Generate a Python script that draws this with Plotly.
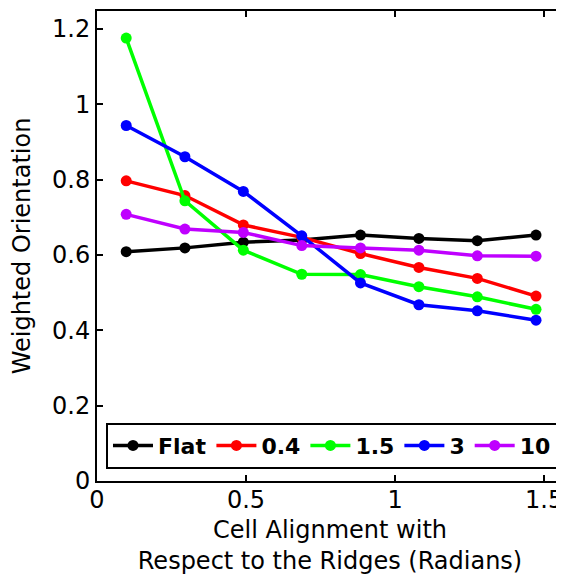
import numpy as np
import plotly.graph_objects as go

# Data
x_vals = [0.098, 0.295, 0.491, 0.687, 0.884, 1.080, 1.276, 1.473]
series_names = ["Flat", "0.4", "1.5", "3", "10"]
flat = [0.609, 0.619, 0.634, 0.640, 0.653, 0.644, 0.638, 0.653]
s_04 = [0.797, 0.758, 0.680, 0.647, 0.604, 0.567, 0.538, 0.491]
s_15 = [1.176, 0.744, 0.613, 0.549, 0.548, 0.516, 0.489, 0.456]
s_3 = [0.944, 0.861, 0.769, 0.651, 0.526, 0.468, 0.452, 0.427]
s_10 = [0.708, 0.669, 0.660, 0.625, 0.619, 0.613, 0.598, 0.597]
x_ticks = [0, 0.5, 1, 1.5]
x_ticklabels = ["0", "0.5", "1", "1.5"]
y_ticks = [0, 0.2, 0.4, 0.6, 0.8, 1.0, 1.2]
y_ticklabels = ["0", "0.2", "0.4", "0.6", "0.8", "1", "1.2"]

colors = ["#000000", "#ff0000", "#00ff00", "#0000ff", "#bf00ff"]
all_series = [flat, s_04, s_15, s_3, s_10]

fig = go.Figure()
for name, ys, c in zip(series_names, all_series, colors):
    fig.add_trace(go.Scatter(
        x=x_vals, y=ys, name=name, mode="lines+markers",
        line=dict(color=c, width=3.5),
        marker=dict(color=c, size=11, symbol="circle"),
    ))

font_family = "DejaVu Sans"
axis_common = dict(
    showline=True, linecolor="black", linewidth=2, mirror="ticks",
    ticks="inside", ticklen=6, tickwidth=1.5, tickcolor="black",
    showgrid=False, zeroline=False, automargin=False,
    tickfont=dict(family=font_family, size=24, color="black"),
)

# The page body has an 8px margin, so the figure is sized/placed to compensate.
fig.update_layout(
    width=556, height=567,
    margin=dict(l=89, r=1, t=3, b=94),
    paper_bgcolor="white", plot_bgcolor="white",
    font=dict(family=font_family, color="black"),
    xaxis=dict(
        range=[0, 1.5635], tickvals=x_ticks, ticktext=x_ticklabels,
        ticklabelstandoff=-4,
        title=dict(text="Cell Alignment with<br>Respect to the Ridges (Radians)",
                   font=dict(family=font_family, size=24, color="black")),
        **axis_common,
    ),
    yaxis=dict(
        range=[0, 1.248], tickvals=y_ticks, ticktext=y_ticklabels,
        title=dict(text="Weighted Orientation",
                   font=dict(family=font_family, size=24, color="black")),
        **axis_common,
    ),
    legend=dict(
        orientation="h", x=0.0193, y=0.1243, xanchor="left", yanchor="top",
        bgcolor="white", bordercolor="black", borderwidth=2,
        font=dict(family=font_family, size=22, color="black", weight="bold"),
        itemwidth=40, tracegroupgap=0,
    ),
    showlegend=True,
)

fig.write_html("out.html")
